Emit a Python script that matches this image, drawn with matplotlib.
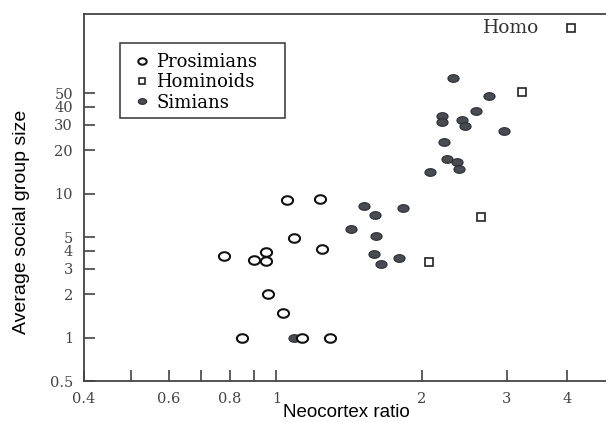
import numpy as np
import matplotlib
matplotlib.use("Agg")
import matplotlib.pyplot as plt
from matplotlib.path import Path
from matplotlib.patches import Rectangle

# neocortex ratio / group size
prosimian_x = [0.78, 0.90, 0.95, 0.95, 0.96, 0.85, 1.03, 1.05, 1.23, 1.09, 1.24, 1.13, 1.29]
prosimian_y = [3.7, 3.45, 3.95, 3.4, 2.0, 1.0, 1.48, 9.1, 9.2, 4.95, 4.15, 1.0, 0.99]

simian_x = [1.09, 1.43, 1.52, 1.60, 1.61, 1.59, 1.65, 1.79, 1.83, 2.08, 2.22, 2.20, 2.20,
            2.25, 2.32, 2.36, 2.39, 2.42, 2.46, 2.59, 2.75, 2.96]
simian_y = [1.0, 5.7, 8.2, 7.1, 5.1, 3.8, 3.25, 3.55, 7.9, 14.1, 22.7, 34.5, 31.5,
            17.5, 63.5, 16.6, 14.8, 32.5, 29.3, 37.5, 48.0, 27.3]

hominoid_x = [2.07, 2.65, 3.22, 4.06]
hominoid_y = [3.36, 6.9, 51.0, 142.0]

xticks = [0.4, 0.5, 0.6, 0.7, 0.8, 0.9, 1, 2, 3, 4, 5]
xticklabels = ['0.4', '', '0.6', '', '0.8', '', '1', '2', '3', '4', '5']
yticks = [0.5, 1, 2, 3, 4, 5, 10, 20, 30, 40, 50]
yticklabels = ['0.5', '1', '2', '3', '4', '5', '10', '20', '30', '40', '50']

# ellipse markers (the scan is squashed vertically)
t = np.linspace(0, 2 * np.pi, 40)
ellipse = Path(np.column_stack([1.3 * np.cos(t), np.sin(t)]), closed=True)
ellipse_f = Path(np.column_stack([1.45 * np.cos(t), np.sin(t)]), closed=True)

fig = plt.figure(figsize=(6.06, 4.22), dpi=100)
ax = fig.add_axes([0.1386, 0.097, 0.875, 0.870])
ax.set_xscale('log')
ax.set_yscale('log')
ax.set_xlim(0.4, 5)
ax.set_ylim(0.5, 177)

ax.plot(simian_x, simian_y, ls='none', marker=ellipse_f, ms=8,
        mfc='#464c52', mec='#2a2e33', mew=0.8, label='Simians', zorder=3)
ax.plot(prosimian_x, prosimian_y, ls='none', marker=ellipse, ms=8,
        mfc='white', mec='#111111', mew=1.5, label='Prosimians', zorder=4)
ax.plot(hominoid_x, hominoid_y, ls='none', marker='s', ms=6.3,
        mfc='white', mec='#222222', mew=1.2, label='Hominoids', zorder=4)

ax.text(3.5, hominoid_y[3], 'Homo', family='DejaVu Serif', fontsize=13.5,
        color='#333333', ha='right', va='center')

ax.xaxis.set_minor_locator(matplotlib.ticker.NullLocator())
ax.yaxis.set_minor_locator(matplotlib.ticker.NullLocator())
ax.set_xticks(xticks)
ax.set_xticklabels(xticklabels)
ax.set_yticks(yticks)
ax.set_yticklabels(yticklabels)
ax.tick_params(direction='in', length=8, width=1.1, color='#333333',
               labelsize=10.5, labelcolor='#444444')
ax.tick_params(axis='x', pad=8)
ax.tick_params(axis='y', pad=8)
for lab in ax.get_xticklabels() + ax.get_yticklabels():
    lab.set_family('DejaVu Serif')
for sp in ax.spines.values():
    sp.set_color('#444444')
    sp.set_linewidth(1.3)

# legend box drawn separately, it is wider than the entries
fig.patches.append(Rectangle((0.198, 0.720), 0.272, 0.178, transform=fig.transFigure,
                             fill=False, edgecolor='#333333', linewidth=1.1))
h, l = ax.get_legend_handles_labels()
order = [1, 2, 0]
leg = ax.legend([h[i] for i in order], [l[i] for i in order],
                loc='upper left', bbox_to_anchor=(0.2254, 0.874),
                bbox_transform=fig.transFigure, borderaxespad=0, borderpad=0,
                prop={'family': 'DejaVu Serif', 'size': 13}, frameon=False,
                handlelength=0.6, handletextpad=0.5, labelspacing=0.12,
                markerscale=0.75)

fig.text(0.035, 0.474, 'Average social group size', rotation=90,
         family='Liberation Sans', fontsize=14, ha='center', va='center')
fig.text(0.571, 0.002, 'Neocortex ratio', family='Liberation Sans',
         fontsize=13.5, ha='center', va='bottom')

fig.savefig('out.png', dpi=100)
